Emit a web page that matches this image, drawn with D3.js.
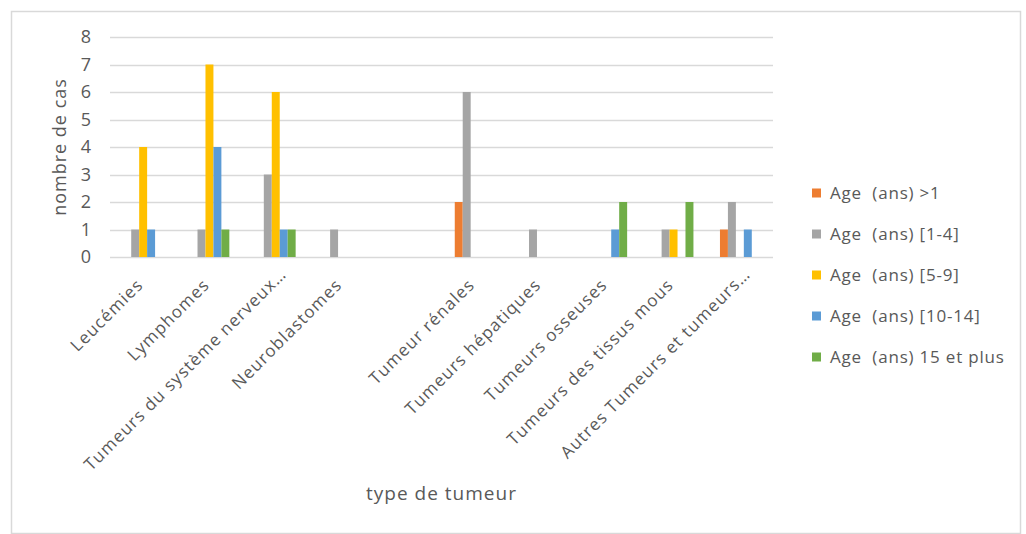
<!DOCTYPE html>
<html lang="fr">
<head>
<meta charset="utf-8">
<script src="https://cdn.jsdelivr.net/npm/d3@7"></script>
<style>
  html, body { margin: 0; padding: 0; background: #ffffff; }
  svg { display: block; }
  text { font-family: "Open Sans", "Liberation Sans", sans-serif; fill: #595959; }
</style>
</head>
<body>
<svg id="chart" width="1026" height="534"></svg>
<script>
// Tumour types (the fifth category has no name)
const categories = [
  "Leucémies",
  "Lymphomes",
  "Tumeurs du système nerveux…",
  "Neuroblastomes",
  "",
  "Tumeur rénales",
  "Tumeurs hépatiques",
  "Tumeurs osseuses",
  "Tumeurs des tissus mous",
  "Autres Tumeurs et tumeurs…"
];

// Age groups
const seriesNames = [
  "Age  (ans) >1",
  "Age  (ans) [1-4]",
  "Age  (ans) [5-9]",
  "Age  (ans) [10-14]",
  "Age  (ans) 15 et plus"
];

// Number of cases per age group, one value per tumour type
const ageUnder1  = [0, 0, 0, 0, 0, 2, 0, 0, 0, 1];
const age1to4    = [1, 1, 3, 1, 0, 6, 1, 0, 1, 2];
const age5to9    = [4, 7, 6, 0, 0, 0, 0, 0, 1, 0];
const age10to14  = [1, 4, 1, 0, 0, 0, 0, 1, 0, 1];
const age15plus  = [0, 1, 1, 0, 0, 0, 0, 2, 2, 0];

const yTicks = [0, 1, 2, 3, 4, 5, 6, 7, 8];

const seriesValues = [ageUnder1, age1to4, age5to9, age10to14, age15plus];
const colors = ["#ED7D31", "#A5A5A5", "#FFC000", "#5B9BD5", "#70AD47"];

const svg = d3.select("#chart");

// Chart frame
svg.append("rect")
  .attr("x", 11.5).attr("y", 11.5)
  .attr("width", 1009).attr("height", 522)
  .attr("fill", "#ffffff")
  .attr("stroke", "#d9d9d9")
  .attr("stroke-width", 1.5);

const plot = { left: 110, right: 773, top: 37, bottom: 257 };

const x = d3.scaleBand()
  .domain(d3.range(categories.length))
  .range([plot.left, plot.right])
  .paddingInner(0.4)
  .paddingOuter(0.2);

const xInner = d3.scaleBand()
  .domain(d3.range(seriesNames.length))
  .range([0, x.bandwidth()]);

const y = d3.scaleLinear()
  .domain([0, 8])
  .range([plot.bottom, plot.top]);

// Horizontal gridlines
svg.append("g")
  .selectAll("line")
  .data(yTicks)
  .join("line")
  .attr("x1", plot.left)
  .attr("x2", plot.right)
  .attr("y1", d => Math.round(y(d)) + 0.5)
  .attr("y2", d => Math.round(y(d)) + 0.5)
  .attr("stroke", "#d9d9d9")
  .attr("stroke-width", 1.3);

// Y tick labels
svg.append("g")
  .selectAll("text")
  .data(yTicks)
  .join("text")
  .attr("x", 91)
  .attr("y", d => y(d))
  .attr("dy", "0.35em")
  .attr("text-anchor", "end")
  .style("font-size", "18px")
  .text(d => d);

// Bars
const groups = svg.append("g")
  .selectAll("g")
  .data(categories.map((c, i) => i))
  .join("g")
  .attr("transform", i => `translate(${x(i)},0)`);

groups.selectAll("rect")
  .data(i => seriesValues.map((vals, s) => ({ s, v: vals[i] })))
  .join("rect")
  .attr("x", d => xInner(d.s))
  .attr("width", xInner.bandwidth())
  .attr("y", d => y(d.v))
  .attr("height", d => y(0) - y(d.v))
  .attr("fill", d => colors[d.s]);

// Category labels, rotated; truncated names run a little further
svg.append("g")
  .selectAll("text")
  .data(categories.map((c, i) => i))
  .join("text")
  .attr("text-anchor", "end")
  .attr("transform", i => `translate(${x(i) + x.bandwidth() / 2 + 1},${plot.bottom + 29}) rotate(-45)`)
  .attr("dx", i => categories[i].endsWith("…") ? 15 : 0)
  .style("font-size", "17px")
  .style("letter-spacing", "1.1px")
  .text(i => categories[i]);

// Axis titles
svg.append("text")
  .attr("transform", `translate(66,${(plot.top + plot.bottom) / 2}) rotate(-90)`)
  .attr("text-anchor", "middle")
  .style("font-size", "18px")
  .style("letter-spacing", "1px")
  .text("nombre de cas");

svg.append("text")
  .attr("x", (plot.left + plot.right) / 2)
  .attr("y", 500)
  .attr("text-anchor", "middle")
  .style("font-size", "19px")
  .style("letter-spacing", "1px")
  .text("type de tumeur");

// Legend
const legend = svg.append("g")
  .selectAll("g")
  .data(seriesNames.map((n, i) => i))
  .join("g")
  .attr("transform", i => `translate(812,${193 + i * 41})`);

legend.append("rect")
  .attr("x", 0).attr("y", -4.5)
  .attr("width", 9).attr("height", 9)
  .attr("fill", i => colors[i]);

legend.append("text")
  .attr("x", 18)
  .attr("dy", "0.35em")
  .style("font-size", "17px")
  .style("letter-spacing", "0.8px")
  .style("white-space", "pre")
  .text(i => seriesNames[i]);
</script>
</body>
</html>
